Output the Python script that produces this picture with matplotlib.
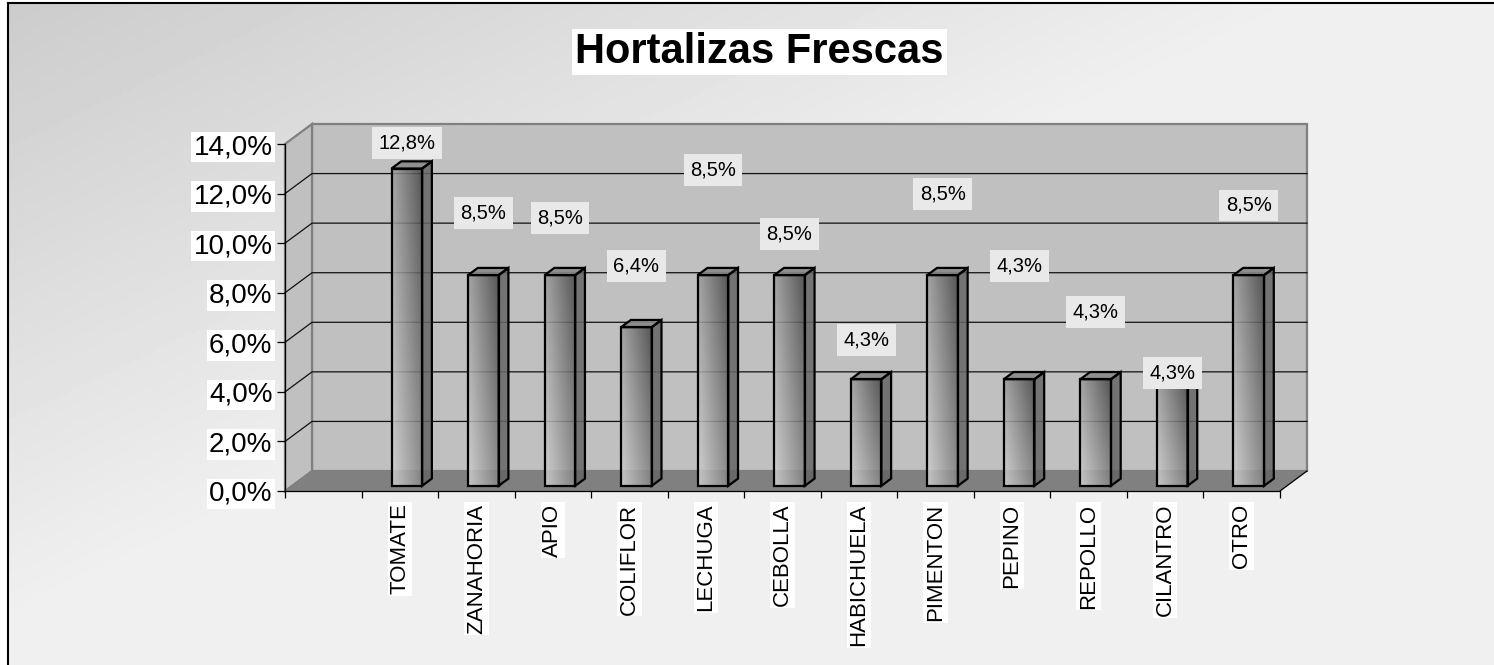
import numpy as np
import matplotlib
matplotlib.use('Agg')
import matplotlib.pyplot as plt
from matplotlib.patches import Polygon

plt.rcParams['font.family'] = ['Liberation Sans', 'DejaVu Sans']

# data
categories = ['TOMATE', 'ZANAHORIA', 'APIO', 'COLIFLOR', 'LECHUGA', 'CEBOLLA',
              'HABICHUELA', 'PIMENTON', 'PEPINO', 'REPOLLO', 'CILANTRO', 'OTRO']
values = [12.8, 8.5, 8.5, 6.4, 8.5, 8.5, 4.3, 8.5, 4.3, 4.3, 4.3, 8.5]
yticks = [0, 2, 4, 6, 8, 10, 12, 14]
title = 'Hortalizas Frescas'

# layout: where excel dropped the data labels (in % units)
label_pos = [14.03, 11.21, 11.01, 9.08, 12.96, 10.37, 6.09, 11.99, 9.08, 7.22, 4.77, 11.52]

W, H = 1494, 665
fig = plt.figure(figsize=(W / 100, H / 100), dpi=100)
fig.patch.set_facecolor('white')

# background gradient + frame
bg = fig.add_axes([8 / W, 0, 1 - 8 / W, 1 - 3 / H])
xx, yy = np.meshgrid(np.linspace(0, 1, 300), np.linspace(0, 1, 150))
shade = np.clip(0.80 + 0.16 * xx + 0.15 * yy, 0, 0.94)
bg.imshow(shade, cmap='gray', vmin=0, vmax=1, aspect='auto', extent=[0, 1, 1, 0])
bg.set_xlim(0, 1)
bg.set_ylim(1, 0)
bg.set_xticks([])
bg.set_yticks([])
for s in ['right', 'bottom']:
    bg.spines[s].set_visible(False)
for s in ['left', 'top']:
    bg.spines[s].set_linewidth(1.5)
    bg.spines[s].set_color('black')

# main axes = front plane of the 3d box
n = len(categories) + 1
ax = fig.add_axes([285 / W, (H - 491) / H, 995 / W, 347 / H])
ax.set_facecolor('none')
DX = 27 / 76.5   # depth in slots
DY = 20 / 24.79  # depth in %
top = 14

wallc = '#c0c0c0'
edgec = '#808080'
# back wall
ax.add_patch(Polygon([(DX, DY), (n + DX, DY), (n + DX, top + DY), (DX, top + DY)],
                     closed=True, facecolor=wallc, edgecolor=edgec, lw=1.6,
                     clip_on=False, zorder=0))
# left wall
ax.add_patch(Polygon([(0, 0), (DX, DY), (DX, top + DY), (0, top)],
                     closed=True, facecolor=wallc, edgecolor=edgec, lw=1.6,
                     clip_on=False, zorder=0))
# floor
ax.add_patch(Polygon([(0, 0), (n, 0), (n + DX, DY), (DX, DY)],
                     closed=True, facecolor='#808080', edgecolor='none',
                     clip_on=False, zorder=1))
ax.plot([n, n + DX], [0, DY], color='black', lw=0.9, clip_on=False, zorder=1)

# gridlines on walls
for t in yticks[1:-1]:
    ax.plot([0, DX, n + DX], [t, t + DY, t + DY], color='#111111', lw=0.9,
            clip_on=False, zorder=2)

# bars
d0 = 0.26
dd = 0.36
bw = 0.40
gx, gy = np.meshgrid(np.linspace(0, 1, 30), np.linspace(0, 1, 60))
grad = (0.82 * (1 - gx) * (1 - gy) + 0.52 * gx * (1 - gy)
        + 0.62 * (1 - gx) * gy + 0.27 * gx * gy)
for i, v in enumerate(values):
    c = i + 1.5 + d0 * DX
    x0, x1 = c - bw / 2, c + bw / 2
    y0, y1 = d0 * DY, v + d0 * DY
    ax.imshow(grad, cmap='gray', vmin=0, vmax=1, aspect='auto', origin='lower',
              extent=[x0, x1, y0, y1], alpha=0.85, zorder=4, interpolation='bilinear')
    ox, oy = dd * DX, dd * DY
    side = [(x1, y0), (x1 + ox, y0 + oy), (x1 + ox, y1 + oy), (x1, y1)]
    topf = [(x0, y1), (x1, y1), (x1 + ox, y1 + oy), (x0 + ox, y1 + oy)]
    ax.add_patch(Polygon(side, closed=True, facecolor='#666666', alpha=0.85,
                         edgecolor='none', zorder=4))
    ax.add_patch(Polygon(topf, closed=True, facecolor='#8a8a8a', alpha=0.9,
                         edgecolor='none', zorder=4))
    for poly in [side, topf, [(x0, y0), (x1, y0), (x1, y1), (x0, y1)]]:
        ax.add_patch(Polygon(poly, closed=True, facecolor='none',
                             edgecolor='black', lw=1.6, zorder=5))
    ax.text(c, label_pos[i], f'{v:.1f}%'.replace('.', ','), ha='center', va='center',
            fontsize=14.5, zorder=10,
            bbox=dict(boxstyle='square,pad=0.32', facecolor='#e9e9e9', edgecolor='none'))

ax.set_xlim(0, n)
ax.set_ylim(0, top)

# axes & ticks
for s in ['top', 'right']:
    ax.spines[s].set_visible(False)
for s in ['left', 'bottom']:
    ax.spines[s].set_color('black')
    ax.spines[s].set_linewidth(0.9)
    ax.spines[s].set_zorder(6)

ax.set_yticks(yticks)
ax.set_yticklabels([f'{t:.1f}%'.replace('.', ',') for t in yticks])
ax.tick_params(axis='y', direction='out', length=6, width=0.9, labelsize=20, pad=3)
for lab in ax.get_yticklabels():
    lab.set_bbox(dict(boxstyle='square,pad=0.08', facecolor='white', edgecolor='none'))

ax.set_xticks(np.arange(0, n + 1))
ax.set_xticklabels([])
ax.set_xticks(np.arange(1.5, n), minor=True)
ax.set_xticklabels(categories, minor=True, rotation=90, va='top', ha='center')
ax.tick_params(axis='x', which='major', direction='out', length=5, width=0.9)
ax.tick_params(axis='x', which='minor', length=0, labelsize=16, pad=9)
for lab in ax.get_xticklabels(minor=True):
    lab.set_bbox(dict(boxstyle='square,pad=0.08', facecolor='white', edgecolor='none'))

fig.text(759.5 / W, 1 - 52 / H, title, ha='center', va='center', fontsize=30,
         fontweight='bold',
         bbox=dict(boxstyle='square,pad=0.07', facecolor='white', edgecolor='none'))

fig.savefig('out.png', dpi=100)
